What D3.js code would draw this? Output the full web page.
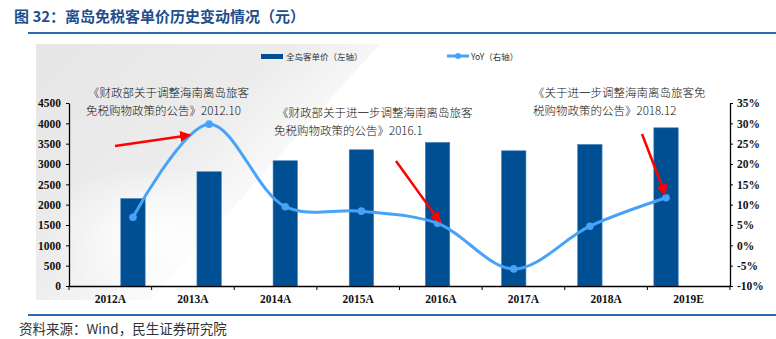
<!DOCTYPE html>
<html>
<head>
<meta charset="utf-8">
<script src="https://cdn.jsdelivr.net/npm/d3@7"></script>
<style>
  body { margin: 0; background: #fff; }
  svg { display: block; }
</style>
</head>
<body>
<svg id="chart" width="776" height="339"></svg>
<script>
// data
var years = ["2012A", "2013A", "2014A", "2015A", "2016A", "2017A", "2018A", "2019E"];
var price = [2150, 2810, 3080, 3350, 3530, 3325, 3480, 3890];
var yoy = [6.9, 29.8, 9.5, 8.4, 5.4, -5.8, 4.7, 11.7];
var leftTicks = [0, 500, 1000, 1500, 2000, 2500, 3000, 3500, 4000, 4500];
var rightTicks = [-10, -5, 0, 5, 10, 15, 20, 25, 30, 35];

var margin = {top: 103, right: 46, bottom: 53, left: 69},
    width = 776 - margin.left - margin.right,
    height = 339 - margin.top - margin.bottom;

var svg = d3.select("#chart");
var defs = svg.append("defs");

// grey shading in the upper left of the original
var lg = defs.append("linearGradient").attr("id", "shade")
    .attr("x1", "0").attr("y1", "0").attr("x2", "1").attr("y2", "0.8");
lg.append("stop").attr("offset", "0").attr("stop-color", "#e6e6e6");
lg.append("stop").attr("offset", "0.45").attr("stop-color", "#ececec");
lg.append("stop").attr("offset", "0.75").attr("stop-color", "#ffffff");
var rg = defs.append("radialGradient").attr("id", "glow");
rg.append("stop").attr("offset", "0").attr("stop-color", "#fff").attr("stop-opacity", 1);
rg.append("stop").attr("offset", "1").attr("stop-color", "#fff").attr("stop-opacity", 0);

svg.append("path")
    .attr("d", "M36,44 L380,44 L150,300 L36,300 Z")
    .attr("fill", "url(#shade)");
svg.append("ellipse")
    .attr("cx", 150).attr("cy", 235).attr("rx", 110).attr("ry", 70)
    .attr("fill", "url(#glow)");

// title
svg.append("text")
    .attr("x", 14).attr("y", 22)
    .style("font-family", "'Noto Sans CJK SC'")
    .style("font-weight", "bold")
    .style("font-size", "15px")
    .style("fill", "#1f4e8c")
    .text("图 32：离岛免税客单价历史变动情况（元）");
svg.append("line").attr("x1", 28).attr("x2", 776).attr("y1", 33).attr("y2", 33)
    .attr("stroke", "#2a6ab0").attr("stroke-width", 2);

// bottom rule and source
svg.append("line").attr("x1", 28).attr("x2", 776).attr("y1", 315).attr("y2", 315)
    .attr("stroke", "#2a6ab0").attr("stroke-width", 2);
svg.append("text")
    .attr("x", 19).attr("y", 334)
    .style("font-family", "'Noto Sans CJK SC'")
    .style("font-size", "13.5px")
    .style("fill", "#333")
    .text("资料来源：Wind，民生证券研究院");

var g = svg.append("g").attr("transform", "translate(" + margin.left + "," + margin.top + ")");

var x = d3.scaleBand().domain(years).range([0, width]).padding(0.68);
var xOuter = d3.scaleBand().domain(years).range([0, width]);
var y = d3.scaleLinear().domain([0, 4500]).range([height, 0]);
var y2 = d3.scaleLinear().domain([-10, 35]).range([height, 0]);

// bars
g.selectAll(".bar")
    .data(price)
  .enter().append("rect")
    .attr("class", "bar")
    .attr("x", function(d, i) { return x(years[i]); })
    .attr("width", x.bandwidth())
    .attr("y", function(d) { return y(d); })
    .attr("height", function(d) { return height - y(d); })
    .attr("fill", "#004f92")
    .attr("stroke", "#3f7fbf")
    .attr("stroke-width", 0.6);

// axes
var tickFont = function(sel) {
  sel.selectAll("text")
    .style("font-family", "'Liberation Serif'")
    .style("font-weight", "bold")
    .style("font-size", "11.5px")
    .style("fill", "#111");
  sel.selectAll("path, line").attr("stroke", "#000");
};

g.append("g")
    .call(d3.axisLeft(y).tickValues(leftTicks).tickSize(3).tickPadding(5).tickSizeOuter(0)
      .tickFormat(d3.format("d")))
    .call(tickFont)
    .call(function(s) { s.select(".domain").attr("stroke-width", 1.3); });

g.append("g")
    .attr("transform", "translate(" + width + ",0)")
    .call(d3.axisRight(y2).tickValues(rightTicks).tickSize(3).tickPadding(4).tickSizeOuter(0)
      .tickFormat(function(d) { return d + "%"; }))
    .call(tickFont)
    .call(function(s) { s.select(".domain").attr("stroke-width", 1.3); });

var xAxis = g.append("g")
    .attr("transform", "translate(0," + height + ")")
    .call(d3.axisBottom(xOuter).tickSize(0).tickPadding(9))
    .call(tickFont);
xAxis.select(".domain").attr("stroke-width", 1.6);
// tick marks between categories
xAxis.selectAll(".sep")
    .data(d3.range(years.length + 1))
  .enter().append("line")
    .attr("class", "sep")
    .attr("x1", function(i) { return i * xOuter.step(); })
    .attr("x2", function(i) { return i * xOuter.step(); })
    .attr("y1", 0).attr("y2", 4)
    .attr("stroke", "#000");

// yoy line
var cx = function(i) { return x(years[i]) + x.bandwidth() / 2; };
var line = d3.line()
    .x(function(d, i) { return cx(i); })
    .y(function(d) { return y2(d); })
    .curve(d3.curveCatmullRom.alpha(0.5));

g.append("path")
    .datum(yoy)
    .attr("d", line)
    .attr("fill", "none")
    .attr("stroke", "#46a3f7")
    .attr("stroke-width", 3);

g.selectAll(".dot")
    .data(yoy)
  .enter().append("circle")
    .attr("class", "dot")
    .attr("cx", function(d, i) { return cx(i); })
    .attr("cy", function(d) { return y2(d); })
    .attr("r", 3.8)
    .attr("fill", "#46a3f7");

// legend
var leg = svg.append("g").style("font-family", "'Noto Sans CJK SC'").style("font-size", "8.5px").style("fill", "#333");
leg.append("rect").attr("x", 261).attr("y", 54).attr("width", 22).attr("height", 5).attr("fill", "#004f92");
leg.append("text").attr("x", 286).attr("y", 60).text("全岛客单价（左轴）");
leg.append("line").attr("x1", 447).attr("x2", 469).attr("y1", 56).attr("y2", 56)
    .attr("stroke", "#46a3f7").attr("stroke-width", 3);
leg.append("circle").attr("cx", 458).attr("cy", 56).attr("r", 3).attr("fill", "#46a3f7");
leg.append("text").attr("x", 471).attr("y", 60).text("YoY（右轴）");

// annotations
var notes = [
  {x: 88, y: 97, lines: ["《财政部关于调整海南离岛旅客", "免税购物政策的公告》2012.10"], dx: [0, -2]},
  {x: 277, y: 117, lines: ["《财政部关于进一步调整海南离岛旅客", "免税购物政策的公告》2016.1"], dx: [0, -3]},
  {x: 533, y: 97, lines: ["《关于进一步调整海南离岛旅客免", "税购物政策的公告》2018.12"], dx: [0, 0]}
];
notes.forEach(function(n) {
  var t = svg.append("text")
      .style("font-family", "'Noto Sans CJK SC'")
      .style("font-weight", "300")
      .style("font-size", "11.5px")
      .style("fill", "#111");
  n.lines.forEach(function(l, k) {
    t.append("tspan").attr("x", n.x + n.dx[k]).attr("y", n.y + k * 18).text(l);
  });
});

// red arrows pointing at the line
defs.append("marker").attr("id", "arrow")
    .attr("viewBox", "0 0 10 10").attr("refX", 8).attr("refY", 5)
    .attr("markerWidth", 4.5).attr("markerHeight", 4.5).attr("orient", "auto")
  .append("path").attr("d", "M0,0 L10,5 L0,10 Z").attr("fill", "#ff0000");

var px = function(i) { return margin.left + cx(i); };
var py = function(i) { return margin.top + y2(yoy[i]); };
var arrows = [
  [115, 146, px(1) - 20, py(1) + 11],
  [396, 161, px(4) + 2, py(4) - 2],
  [642, 134, px(7) - 1, py(7) - 4]
];
arrows.forEach(function(a) {
  svg.append("line")
      .attr("x1", a[0]).attr("y1", a[1]).attr("x2", a[2]).attr("y2", a[3])
      .attr("stroke", "#ff0000").attr("stroke-width", 2.5)
      .attr("marker-end", "url(#arrow)");
});
</script>
</body>
</html>
